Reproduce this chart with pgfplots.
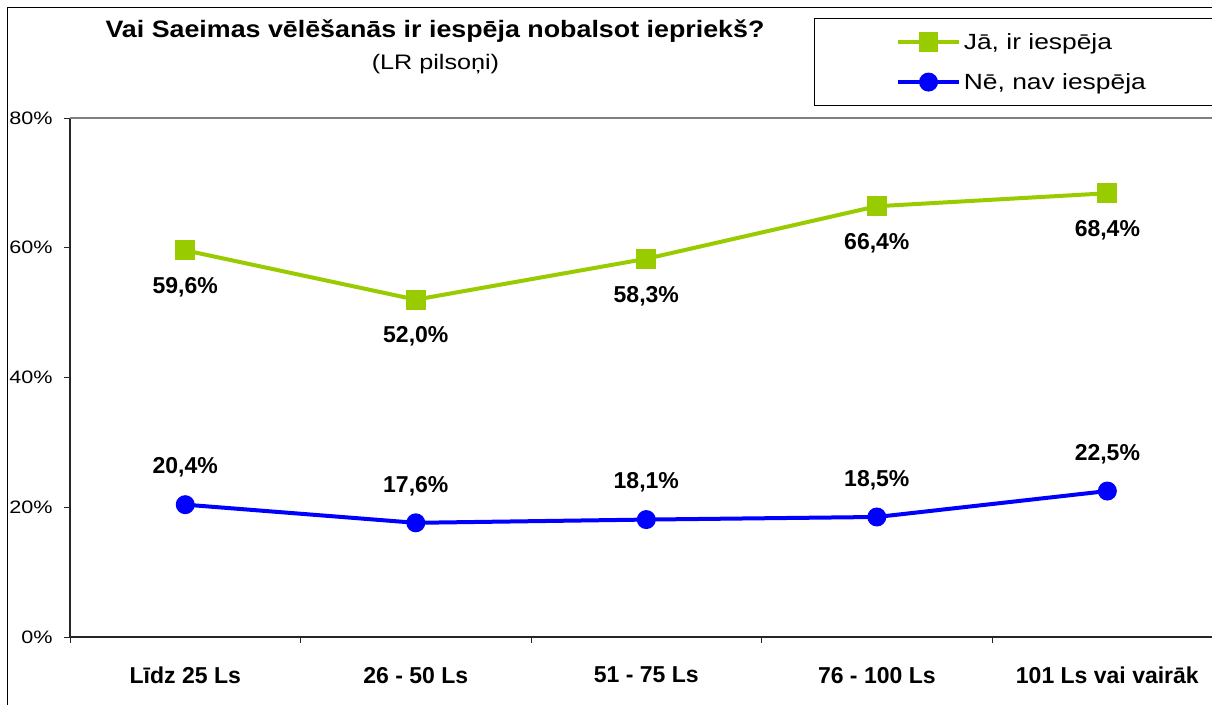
\documentclass[border=0pt]{standalone}
\usepackage{fontspec}
\setmainfont{Liberation Sans}
\newfontfamily\wide[FakeStretch=1.2]{Liberation Sans}
\newfontfamily\titlewide[FakeStretch=1.13]{Liberation Sans}
\usepackage{pgfplots}
\pgfplotsset{compat=1.18}
\definecolor{lime}{RGB}{153,204,0}
\definecolor{myblue}{RGB}{0,0,255}
\begin{document}
\begin{tikzpicture}
\useasboundingbox (0,0) rectangle (909pt,528pt);
\draw[line width=0.75pt] (5.625pt,-5pt) -- (5.625pt,522.4pt) -- (915pt,522.4pt);
\node[anchor=base, inner sep=0pt] at (326.25pt,500pt) {\titlewide\bfseries\fontsize{17.8pt}{20pt}\selectfont Vai Saeimas vēlēšanās ir iespēja nobalsot iepriekš?};
\node[anchor=base, inner sep=0pt] at (326.6pt,475.5pt) {\wide\fontsize{15.75pt}{18pt}\selectfont (LR pilsoņi)};
\begin{axis}[
  at={(52.5pt,50.25pt)}, anchor=south west,
  scale only axis, width=856.5pt, height=389.25pt,
  xmin=-0.5, xmax=4.454, ymin=0, ymax=80,
  axis x line*=bottom, axis y line*=left,
  axis line style={line width=0.9pt, black!85},
  ytick={0,20,40,60,80},
  yticklabels={0\%,20\%,40\%,60\%,80\%},
  yticklabel style={font=\wide\fontsize{13.5pt}{16pt}\selectfont, xshift=-5pt},
  tick align=outside, major tick length=4.5pt,
  tick style={line width=0.75pt, black!85},
  xtick={-0.5,0.5,1.5,2.5,3.5},
  xticklabels={{},{},{},{},{}},
  extra x ticks={0,1,2,3,4},
  extra x tick labels={Līdz 25 Ls,26 - 50 Ls,51 - 75 Ls,76 - 100 Ls,101 Ls vai vairāk},
  extra x tick style={major tick length=0pt, tick label style={font=\bfseries\fontsize{17.25pt}{20pt}\selectfont, yshift=-19pt}},
  clip=false,
  /pgf/number format/assume math mode=true,
  nodes near coords={\pgfmathprintnumber[fixed,fixed zerofill,precision=1,use comma]{\pgfplotspointmeta}\%},
  every node near coord/.append style={font=\bfseries\fontsize{17.25pt}{20pt}\selectfont, anchor=center, black},
  legend style={at={(0.6515,1.1927)}, anchor=north west, draw=black, line width=0.75pt,
    font=\wide\fontsize{16.5pt}{19pt}\selectfont, inner xsep=61pt, inner ysep=9pt,
    row sep=12.5pt, cells={anchor=west}},
  legend image code/.code={\draw[mark repeat=2,mark phase=2,#1] plot coordinates {(0pt,0pt)(23pt,0pt)(46pt,0pt)};},
]
\draw[gray, line width=0.9pt] (rel axis cs:0,1) -- (rel axis cs:1,1);
\addplot[lime, line width=3pt, mark=square*, mark size=5.9pt,
  every node near coord/.append style={yshift=-27.75pt}]
  coordinates {(0,59.6) (1,52.0) (2,58.3) (3,66.4) (4,68.4)};
\addlegendentry{Jā, ir iespēja\hspace*{120pt}}
\addplot[myblue, line width=3pt, mark=*, mark size=5.6pt,
  every node near coord/.append style={yshift=27.75pt}]
  coordinates {(0,20.4) (1,17.6) (2,18.1) (3,18.5) (4,22.5)};
\addlegendentry{Nē, nav iespēja\hspace*{120pt}}
\end{axis}
\end{tikzpicture}
\end{document}
